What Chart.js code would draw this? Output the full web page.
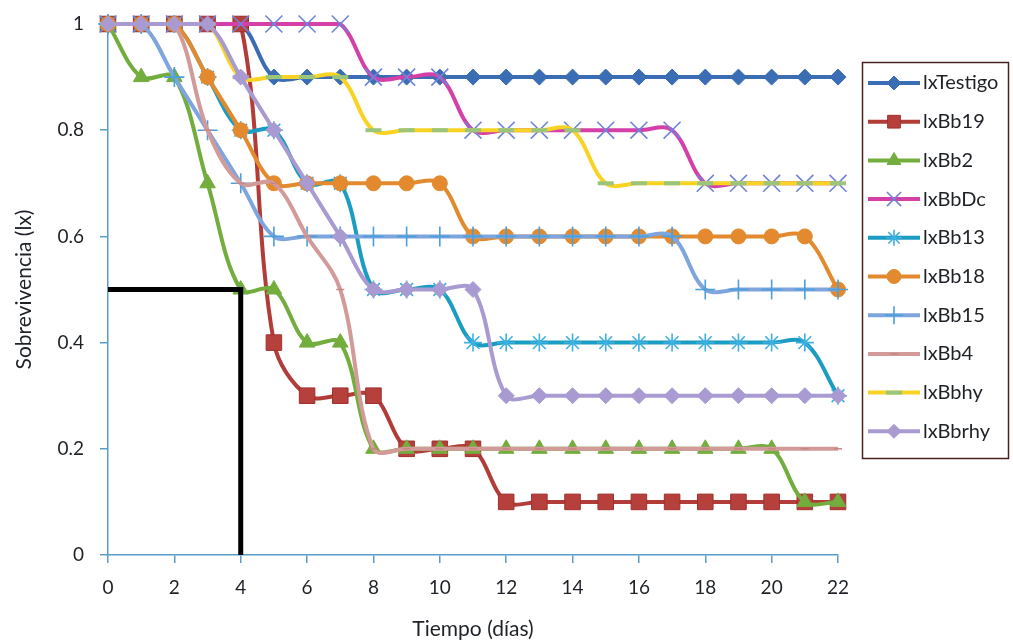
<!DOCTYPE html>
<html><head><meta charset="utf-8">
<script src="https://cdn.jsdelivr.net/npm/chart.js@4"></script>
<style>html,body{margin:0;padding:0;background:#fff;}#wrap{width:1013px;height:644px;position:relative;}</style>
</head><body><div id="wrap"><canvas id="c" width="1013" height="644"></canvas></div>
<script>
const days = [0,1,2,3,4,5,6,7,8,9,10,11,12,13,14,15,16,17,18,19,20,21,22];
const seriesNames = ["lxTestigo","lxBb19","lxBb2","lxBbDc","lxBb13","lxBb18","lxBb15","lxBb4","lxBbhy","lxBbrhy"];
const lxTestigo = [1,1,1,1,1,0.9,0.9,0.9,0.9,0.9,0.9,0.9,0.9,0.9,0.9,0.9,0.9,0.9,0.9,0.9,0.9,0.9,0.9];
const lxBb19 = [1,1,1,1,1,0.4,0.3,0.3,0.3,0.2,0.2,0.2,0.1,0.1,0.1,0.1,0.1,0.1,0.1,0.1,0.1,0.1,0.1];
const lxBb2 = [1,0.9,0.9,0.7,0.5,0.5,0.4,0.4,0.2,0.2,0.2,0.2,0.2,0.2,0.2,0.2,0.2,0.2,0.2,0.2,0.2,0.1,0.1];
const lxBbDc = [1,1,1,1,1,1,1,1,0.9,0.9,0.9,0.8,0.8,0.8,0.8,0.8,0.8,0.8,0.7,0.7,0.7,0.7,0.7];
const lxBb13 = [1,1,1,0.9,0.8,0.8,0.7,0.7,0.5,0.5,0.5,0.4,0.4,0.4,0.4,0.4,0.4,0.4,0.4,0.4,0.4,0.4,0.3];
const lxBb18 = [1,1,1,0.9,0.8,0.7,0.7,0.7,0.7,0.7,0.7,0.6,0.6,0.6,0.6,0.6,0.6,0.6,0.6,0.6,0.6,0.6,0.5];
const lxBb15 = [1,1,0.9,0.8,0.7,0.6,0.6,0.6,0.6,0.6,0.6,0.6,0.6,0.6,0.6,0.6,0.6,0.6,0.5,0.5,0.5,0.5,0.5];
const lxBb4 = [1,1,1,0.8,0.7,0.7,0.6,0.5,0.2,0.2,0.2,0.2,0.2,0.2,0.2,0.2,0.2,0.2,0.2,0.2,0.2,0.2,0.2];
const lxBbhy = [1,1,1,1,0.9,0.9,0.9,0.9,0.8,0.8,0.8,0.8,0.8,0.8,0.8,0.7,0.7,0.7,0.7,0.7,0.7,0.7,0.7];
const lxBbrhy = [1,1,1,1,0.9,0.8,0.7,0.6,0.5,0.5,0.5,0.5,0.3,0.3,0.3,0.3,0.3,0.3,0.3,0.3,0.3,0.3,0.3];
const refX = [0,4,4];
const refY = [0.5,0.5,0];
const xTicks = [0,2,4,6,8,10,12,14,16,18,20,22];
const yTicks = [0,0.2,0.4,0.6,0.8,1];

const values = [lxTestigo,lxBb19,lxBb2,lxBbDc,lxBb13,lxBb18,lxBb15,lxBb4,lxBbhy,lxBbrhy];
const styles = [
  {c:'#3a6db3', ps:'rectRot', r:8, pf:'#3a6db3', pb:'#3a6db3', bw:1},
  {c:'#b23c38', ps:'rect', r:11, pf:'#b5403c', pb:'#a0302c', bw:1},
  {c:'#72ad3e', ps:'triangle', r:9, pf:'#72ad3e', pb:'#72ad3e', bw:1},
  {c:'#d43fa8', ps:'crossRot', r:12, pf:'#6f84d8', pb:'#6f84d8', bw:1.6},
  {c:'#1b9cc2', ps:'star', r:9, pf:'#3db0e2', pb:'#3db0e2', bw:1.6},
  {c:'#e38a2f', ps:'circle', r:7.5, pf:'#e38a2f', pb:'#e38a2f', bw:1},
  {c:'#7ea5dd', ps:'cross', r:10, pf:'#4a9fdc', pb:'#4a9fdc', bw:1.6},
  {c:'#d29a98', ps:'line', r:4, pf:'#c98683', pb:'#c98683', bw:1.5},
  {c:'#f8d323', ps:'line', r:8, pf:'#9cc57c', pb:'#9cc57c', bw:4},
  {c:'#a99bd1', ps:'rectRot', r:8, pf:'#a99bd1', pb:'#a99bd1', bw:1}
];
const legendR = [7, 9, 8, 10, 8, 7, 9, 4, 8, 7];

const datasets = values.map((arr,i)=>({
  label: seriesNames[i],
  data: days.map((d,j)=>({x:d,y:arr[j]})),
  borderColor: styles[i].c,
  backgroundColor: styles[i].pf,
  borderWidth: 4,
  tension: 0.35,
  pointStyle: styles[i].ps,
  pointRadius: styles[i].r,
  pointBackgroundColor: styles[i].pf,
  pointBorderColor: styles[i].pb,
  pointBorderWidth: styles[i].bw,
  order: 20 - i,
  clip: false
}));
datasets.push({
  label: 'ref',
  data: refX.map((x,i)=>({x:x,y:refY[i]})),
  borderColor: '#000',
  borderWidth: 5,
  tension: 0,
  pointRadius: 0,
  order: 0,
  clip: false
});

const FONT = 'Lato, "Open Sans", sans-serif';
const axisColor = '#5b9dc9';
const textColor = '#1e2226';

const legendPlugin = {
  id: 'customLegend',
  afterDraw(chart){
    const ctx = chart.ctx;
    ctx.save();
    ctx.strokeStyle = '#4a2020';
    ctx.lineWidth = 1.5;
    ctx.strokeRect(862.5, 62.5, 146, 396);
    const top = 83, step = 38.7;
    seriesNames.forEach((name,i)=>{
      const y = top + i*step;
      const s = styles[i];
      ctx.strokeStyle = s.c;
      ctx.lineWidth = 4;
      ctx.beginPath(); ctx.moveTo(868,y); ctx.lineTo(920,y); ctx.stroke();
      ctx.fillStyle = s.pf; ctx.strokeStyle = s.pb; ctx.lineWidth = s.bw;
      ctx.beginPath();
      Chart.helpers.drawPoint(ctx, {pointStyle:s.ps, radius:legendR[i], borderWidth:s.bw, rotation:0}, 894, y);
      ctx.fillStyle = textColor;
      ctx.font = '20px ' + FONT;
      ctx.textAlign = 'left'; ctx.textBaseline = 'middle';
      ctx.fillText(name, 923, y);
    });
    ctx.restore();
  }
};

new Chart(document.getElementById('c'), {
  type: 'line',
  data: { datasets },
  plugins: [legendPlugin],
  options: {
    responsive: false,
    animation: false,
    events: [],
    layout: { padding: { top: 24, right: 175, left: 0, bottom: 0 } },
    plugins: { legend: { display: false }, tooltip: { enabled: false } },
    scales: {
      x: {
        type: 'linear', min: 0, max: 22,
        afterFit(s){ s.height = 89; s.paddingLeft = 5; s.paddingRight = 5; },
        afterBuildTicks(s){ s.ticks = xTicks.map(v=>({value:v})); },
        border: { color: axisColor, width: 1.5 },
        grid: { drawOnChartArea: false, color: axisColor, tickLength: 8, lineWidth: 1.5 },
        ticks: { color: textColor, font: { family: FONT, size: 19 }, padding: 13, maxRotation: 0 },
        title: { display: true, text: 'Tiempo (días)', color: textColor, font: { family: FONT, size: 21 }, padding: { top: 0, bottom: 2 } }
      },
      y: {
        type: 'linear', min: 0, max: 1,
        afterFit(s){ s.width = 108; s.paddingTop = 10; s.paddingBottom = 10; },
        afterBuildTicks(s){ s.ticks = yTicks.map(v=>({value:v})); },
        border: { color: axisColor, width: 1.5 },
        grid: { drawOnChartArea: false, color: axisColor, tickLength: 8, lineWidth: 1.5 },
        ticks: { color: textColor, font: { family: FONT, size: 19 }, padding: 16, callback: v => String(Math.round(v*10)/10) },
        title: { display: true, text: 'Sobrevivencia (lx)', color: textColor, font: { family: FONT, size: 21 }, padding: { top: 12, bottom: 0 } }
      }
    }
  }
});
</script></body></html>
